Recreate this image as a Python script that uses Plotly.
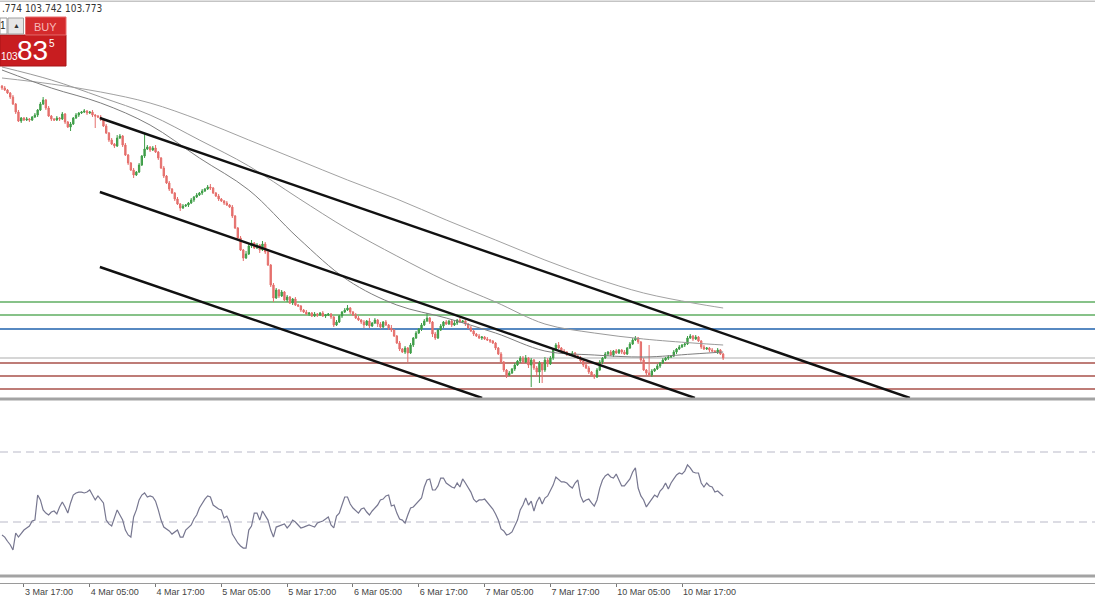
import plotly.graph_objects as go

# ---------------- data ----------------
# M30 bars, index 0 = 3 Mar 13:00 (bar-index time axis, weekend removed)
closes = [
 106.47,106.45,106.42,106.38,106.31,106.23,106.14,106.17,106.15,106.16,
 106.15,106.18,106.20,106.25,106.31,106.35,106.27,106.19,106.16,106.15,
 106.17,106.16,106.21,106.13,106.08,106.11,106.17,106.20,106.22,106.23,
 106.24,106.22,106.23,106.20,106.19,106.18,106.16,106.09,106.02,105.95,
 105.91,105.89,105.97,105.99,105.90,105.80,105.72,105.65,105.60,105.63,
 105.70,105.79,105.86,105.88,105.85,105.87,105.83,105.77,105.67,105.59,
 105.52,105.46,105.42,105.36,105.31,105.27,105.29,105.30,105.32,105.35,
 105.38,105.40,105.42,105.44,105.46,105.48,105.47,105.42,105.39,105.36,
 105.34,105.32,105.30,105.28,105.19,105.07,104.97,104.85,104.77,104.81,
 104.89,104.92,104.87,104.90,104.85,104.91,104.83,104.70,104.50,104.37,
 104.45,104.39,104.43,104.35,104.38,104.32,104.36,104.30,104.29,104.25,
 104.23,104.21,104.22,104.19,104.21,104.20,104.22,104.19,104.20,104.21,
 104.18,104.10,104.13,104.19,104.23,104.25,104.27,104.23,104.20,104.17,
 104.15,104.13,104.10,104.14,104.09,104.12,104.15,104.11,104.08,104.13,
 104.10,104.07,104.05,103.99,103.92,103.86,103.83,103.87,103.82,103.90,
 103.97,104.02,104.06,104.10,104.14,104.17,104.13,104.01,103.97,104.05,
 104.09,104.13,104.11,104.14,104.10,104.12,104.15,104.13,104.14,104.11,
 104.07,104.04,104.01,103.99,103.97,103.98,103.96,103.95,103.94,103.92,
 103.87,103.81,103.73,103.65,103.60,103.62,103.66,103.70,103.74,103.77,
 103.73,103.77,103.70,103.75,103.67,103.63,103.72,103.65,103.75,103.71,
 103.77,103.85,103.90,103.87,103.84,103.83,103.81,103.80,103.82,103.79,
 103.77,103.74,103.70,103.67,103.63,103.60,103.58,103.65,103.73,103.77,
 103.81,103.83,103.80,103.84,103.82,103.85,103.83,103.81,103.87,103.91,
 103.95,103.97,103.93,103.75,103.65,103.62,103.60,103.64,103.66,103.69,
 103.72,103.75,103.77,103.78,103.79,103.83,103.86,103.88,103.90,103.91,
 103.97,103.99,103.96,103.98,103.94,103.88,103.86,103.87,103.85,103.84,
 103.83,103.85,103.81,103.77]
first_open = 106.49

# wick lengths beyond the body, in hundredths
wick_up = [
 1,2,1,1,2,1,2,1,1,2, 1,1,2,1,2,3,1,2,1,1, 2,1,2,1,1,2,1,2,1,1,
 2,1,1,2,1,1,2,1,2,1, 2,1,3,2,1,2,1,1,2,1, 2,1,16,2,1,2,3,1,1,2,
 1,2,1,1,2,1,2,1,1,2, 1,2,1,2,1,2,3,1,1,2, 1,1,2,1,2,1,1,2,1,3,
 2,3,1,2,1,3,2,1,1,2, 2,1,2,1,2,1,1,2,1,1, 1,2,1,1,2,1,1,2,1,1,
 1,1,2,1,1,2,3,1,1,2, 2,1,2,1,3,1,2,1,2,1, 2,1,3,1,1,2,1,2,1,2,
 1,2,1,2,2,5,1,1,2,1, 2,1,2,1,2,3,1,2,1,1, 1,2,1,1,2,1,1,2,1,1,
 1,1,2,1,1,2,1,2,1,2, 2,3,1,2,1,2,2,1,3,2, 2,1,2,3,1,2,1,1,2,1,
 1,2,1,1,2,1,1,2,2,1, 2,1,2,1,2,1,1,2,1,2, 2,2,1,1,2,1,28,2,1,2,
 1,2,1,2,1,2,1,2,1,1, 2,2,1,2,1,1,2,1,1,2, 1,2,1,1]
wick_dn = [
 2,1,1,2,1,2,1,2,1,1, 2,1,1,2,1,1,2,1,2,1, 1,2,1,2,1,4,1,1,2,1,
 1,2,1,2,12,1,2,1,1,2, 1,2,1,1,2,1,2,1,3,1, 1,1,2,1,2,1,1,2,1,2,
 1,2,1,2,1,3,1,1,2,1, 2,1,1,2,1,1,2,1,1,2, 1,2,1,1,2,1,2,1,3,1,
 1,2,1,1,3,1,2,1,2,4, 1,2,1,1,2,1,2,1,1,2, 1,1,2,1,1,2,1,1,2,1,
 2,2,1,1,2,1,1,2,1,1, 1,2,3,1,2,1,1,3,2,1, 1,2,2,1,1,2,1,2,9,1,
 2,1,1,2,1,1,2,3,2,1, 1,2,1,1,2,1,2,1,1,2, 1,1,2,1,1,2,1,1,2,1,
 2,1,1,2,3,1,1,2,1,2, 2,1,3,22,2,3,11,13,2,3, 1,2,1,1,2,1,2,1,1,2,
 1,1,2,1,2,1,2,1,1,2, 1,2,1,2,1,1,2,1,1,1, 1,1,2,2,1,2,1,2,1,1,
 2,1,1,2,1,1,2,1,1,2, 1,1,2,1,1,2,1,1,2,1, 1,2,1,2]

rsi = [
 22.6,21.4,19.0,17.0,14.0,23.7,21.4,23.7,25.4,26.6,
 27.7,30.6,31.1,45.4,42.6,36.9,35.1,34.0,35.7,36.3,
 34.6,38.6,41.4,38.6,35.1,40.9,45.4,46.6,47.1,47.1,
 46.6,47.1,48.3,45.4,42.6,44.9,43.1,40.9,31.1,28.9,
 27.7,32.3,36.9,34.0,31.1,25.4,22.6,21.4,32.9,36.9,
 42.6,45.4,46.6,44.3,44.9,44.3,41.9,36.9,31.1,27.1,
 26.0,24.9,23.1,24.3,25.4,21.4,21.4,25.4,27.1,28.3,
 31.7,34.0,38.0,40.9,43.1,44.9,44.3,39.7,38.6,37.4,
 36.9,32.3,33.4,30.0,23.1,20.3,18.0,16.3,15.1,15.1,
 25.4,27.7,35.1,35.1,31.1,36.3,34.0,31.1,25.4,21.4,
 27.1,27.7,28.3,28.9,26.6,28.3,31.1,30.0,28.3,26.6,
 27.1,27.7,28.3,27.7,27.1,29.4,30.0,30.6,31.7,32.9,
 28.3,26.6,33.4,35.1,39.7,44.3,44.3,40.3,38.0,36.3,
 35.1,37.4,38.0,35.7,34.0,36.3,38.0,39.7,42.6,43.1,
 44.9,45.4,39.1,39.7,35.1,31.7,31.1,29.4,34.0,38.0,
 38.6,40.3,41.4,43.7,50.0,54.0,54.6,48.3,48.3,50.6,
 55.1,55.1,52.3,51.1,50.0,49.4,52.3,50.0,54.6,52.3,
 49.4,47.1,43.1,41.4,42.6,42.6,43.1,41.4,39.7,37.4,
 34.6,31.1,26.0,24.9,22.6,23.1,24.3,27.7,31.1,36.9,
 39.7,43.7,39.7,41.9,36.3,41.4,44.3,40.3,43.7,44.9,
 47.7,51.1,55.7,54.0,52.9,52.9,52.3,50.6,49.4,52.3,
 54.0,44.9,41.4,42.6,43.1,40.9,39.1,42.6,49.4,54.0,
 56.3,57.4,55.7,55.1,57.4,54.0,50.6,50.6,52.9,54.6,
 58.6,60.9,49.4,44.9,42.6,38.6,40.9,43.1,45.4,44.3,
 47.7,49.4,52.3,48.9,52.3,54.6,56.9,58.0,57.4,59.1,
 62.6,60.9,58.6,58.0,58.0,52.3,50.0,52.3,50.6,50.0,
 47.1,47.7,46.0,44.9]

# moving averages, sampled every 18 bars
ma_bars = [0, 18, 36, 54, 72, 90, 108, 126, 144, 162, 180, 198, 216, 234, 252, 263]
ma_slow = [106.57,106.51,106.43,106.32,106.15,105.95,105.75,105.55,105.36,105.15,104.95,104.75,104.57,104.42,104.32,104.27]
ma_mid  = [106.68,106.55,106.38,106.20,105.95,105.69,105.37,105.06,104.79,104.54,104.33,104.11,104.02,103.96,103.92,103.90]
ma_fast = [106.65,106.47,106.32,106.10,105.77,105.45,104.97,104.55,104.30,104.17,104.02,103.84,103.80,103.78,103.81,103.83]

# descending channel (start bar, start price, end bar, end price)
channel_lines = [
    (35.7, 106.17, 331.1, 103.37),
    (35.7, 105.43, 252.7, 103.37),
    (35.7, 104.68, 175.1, 103.37),
]

# horizontal levels
level_prices = [104.33, 104.20, 104.06, 103.77, 103.72, 103.59, 103.46]
level_colors = ["#5fae62", "#5fae62", "#1f62ad", "#c9c9c9", "#a8504a", "#a8504a", "#a8504a"]

rsi_levels = [70, 30]

tick_bars = [8, 32, 56, 80, 104, 128, 152, 176, 200, 224, 248]
tick_labels = ["3 Mar 17:00", "4 Mar 05:00", "4 Mar 17:00", "5 Mar 05:00", "5 Mar 17:00",
               "6 Mar 05:00", "6 Mar 17:00", "7 Mar 05:00", "7 Mar 17:00",
               "10 Mar 05:00", "10 Mar 17:00"]
hidden_tick_bar = -16
hidden_tick_label = "3 Mar 05:00"

# ---------------- derived ----------------
bars = list(range(len(closes)))
opens = [first_open] + closes[:-1]
highs = [max(o, c) + u / 100 for o, c, u in zip(opens, closes, wick_up)]
lows = [min(o, c) - d / 100 for o, c, d in zip(opens, closes, wick_dn)]

W, H = 1095, 600
PX_PER_BAR = 2.742
X0 = -2 / PX_PER_BAR
X1 = X0 + W / PX_PER_BAR

def py(y):
    return 1 - y / H

def pxx(x):
    return x / W

UP = "#3f9e48"
DN = "#e56f6c"

fig = go.Figure()

shapes = []
for p, c in zip(level_prices, level_colors):
    shapes.append(dict(type="line", xref="paper", yref="y", x0=0, x1=1, y0=p, y1=p,
                       line=dict(color=c, width=1.3), layer="below"))

fig.add_trace(go.Candlestick(
    x=bars, open=opens, high=highs, low=lows, close=closes,
    xaxis="x", yaxis="y",
    increasing=dict(line=dict(color=UP, width=1), fillcolor=UP),
    decreasing=dict(line=dict(color=DN, width=1), fillcolor=DN),
    whiskerwidth=0, showlegend=False, hoverinfo="skip"))

for vals, col in [(ma_slow, "#a2a2a2"), (ma_mid, "#9a9a9a"), (ma_fast, "#7e7e7e")]:
    fig.add_trace(go.Scatter(x=ma_bars, y=vals, mode="lines", xaxis="x", yaxis="y",
                             line=dict(color=col, width=1, shape="spline", smoothing=1.0),
                             showlegend=False, hoverinfo="skip"))

for b0, p0, b1, p1 in channel_lines:
    fig.add_trace(go.Scatter(x=[b0, b1], y=[p0, p1], mode="lines", xaxis="x", yaxis="y",
                             line=dict(color="#111111", width=2.4),
                             showlegend=False, hoverinfo="skip"))

fig.add_trace(go.Scatter(x=bars, y=rsi, mode="lines", xaxis="x2", yaxis="y2",
                         line=dict(color="#777790", width=1.2),
                         showlegend=False, hoverinfo="skip"))

for lv in rsi_levels:
    shapes.append(dict(type="line", xref="paper", yref="y2", x0=0, x1=1, y0=lv, y1=lv,
                       line=dict(color="#b9b9c8", width=1, dash="8px,5px"), layer="below"))

for y0, y1 in [(397.5, 400.5), (574.5, 577.5)]:
    shapes.append(dict(type="rect", xref="paper", yref="paper", x0=0, x1=1,
                       y0=py(y1), y1=py(y0), fillcolor="#a3a3a3", line=dict(width=0)))
shapes.append(dict(type="rect", xref="paper", yref="paper", x0=0, x1=1,
                   y0=py(2), y1=py(0.5), fillcolor="#c4c4c4", line=dict(width=0)))

def rect(x0, y0, x1, y1, fill, line=None, lw=0):
    shapes.append(dict(type="rect", xref="paper", yref="paper",
                       x0=pxx(x0), x1=pxx(x1), y0=py(y1), y1=py(y0),
                       fillcolor=fill, line=dict(color=line or fill, width=lw)))

rect(0, 35, 66, 66, "#c81d20", "#a81517", 1)
rect(25.5, 17, 66, 35, "#d42a2c", "#e86a6a", 1)
rect(0, 18, 7, 34, "#ffffff", "#9a9a9a", 1)
rect(8, 18, 23.5, 34, "#e6e6e6", "#a0a0a0", 1)

ann = []
def text(x, y, s, size, color, xanchor="center", family="Liberation Sans"):
    ann.append(dict(x=pxx(x), y=py(y), xref="paper", yref="paper", text=s, showarrow=False,
                    xanchor=xanchor, yanchor="middle",
                    font=dict(size=size, color=color, family=family)))

text(0, 8.5, ".774 103.742 103.773", 10, "#333333", xanchor="left", family="DejaVu Sans Condensed")
text(16, 25.5, "▲", 7, "#333333")
text(3, 25.5, "1", 10, "#222222")
text(45.5, 26.5, "BUY", 11, "#f7b9b9")
text(-1, 57, "103", 10, "#ffffff", xanchor="left")
text(32, 51, "83", 28, "#ffffff")
text(52, 43.5, "5", 10, "#ffffff")

ann.append(dict(x=hidden_tick_bar, y=py(592), xref="x2", yref="paper", text=hidden_tick_label,
                showarrow=False, xanchor="left", yanchor="middle", xshift=2,
                font=dict(size=9, color="#444444", family="Liberation Sans")))

fig.update_layout(
    width=W, height=H, margin=dict(l=0, r=0, t=0, b=0),
    paper_bgcolor="white", plot_bgcolor="white",
    showlegend=False, shapes=shapes, annotations=ann,
    xaxis=dict(domain=[0, 1], range=[X0, X1], anchor="y", visible=False,
               rangeslider=dict(visible=False), fixedrange=True),
    yaxis=dict(domain=[py(398), py(2)], range=[103.37, 107.33], visible=False),
    xaxis2=dict(domain=[0, 1], range=[X0, X1], anchor="y2", matches="x",
                showline=True, linecolor="#9a9a9a", linewidth=1, mirror=False,
                ticks="outside", ticklen=3, tickcolor="#777777", tickwidth=1,
                tickvals=tick_bars, ticktext=tick_labels,
                ticklabelposition="outside right",
                tickfont=dict(size=9, color="#444444", family="Liberation Sans"),
                showgrid=False, zeroline=False, rangeslider=dict(visible=False)),
    yaxis2=dict(domain=[py(583), py(400)],
                range=[(574.5 - 583) / 1.75, (574.5 - 400) / 1.75], visible=False),
)

fig.write_html("out.html", config={"displayModeBar": False},
               post_script="document.body.style.margin='0';document.body.style.overflow='hidden';")
